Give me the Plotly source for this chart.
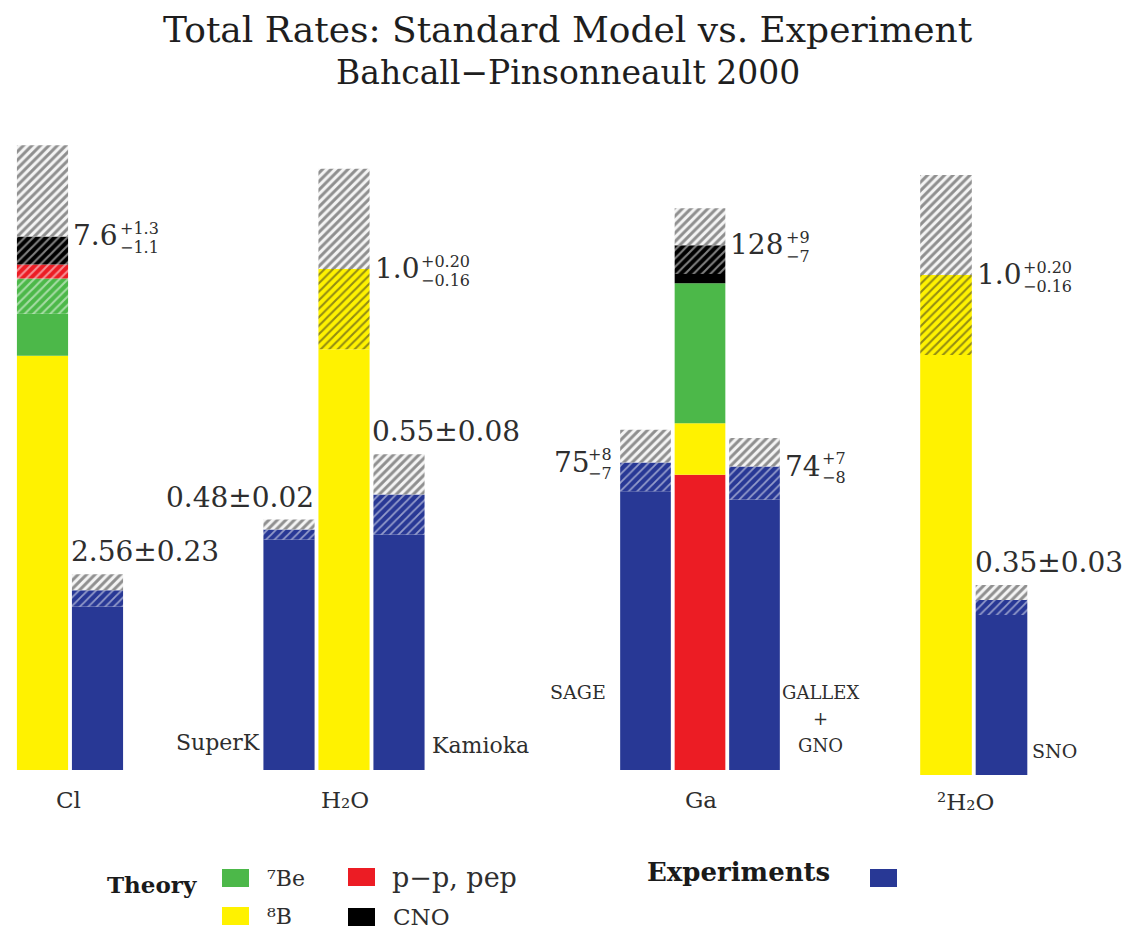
import plotly.graph_objects as go

W, H = 1122, 921          # figure size (page body adds an 8px margin)
OFF = 8

# ------------------------- data -------------------------
GROUP_LABELS = ["Cl", "H₂O", "Ga", "²H₂O"]

SOURCE_KEYS = ["7Be", "8B", "pp", "CNO"]
SOURCE_LABELS = ["⁷Be", "⁸B", "p−p, pep", "CNO"]

# theory predictions: components listed bottom -> top
CL_TH_SRC = ["8B", "7Be", "pp", "CNO"]
CL_TH_VAL = [5.9, 1.1, 0.2, 0.4]          # SNU, total 7.6
CL_TH_ERR = [1.3, 1.1]                    # +, -
H2O_TH_SRC = ["8B"]
H2O_TH_VAL = [1.0]
H2O_TH_ERR = [0.20, 0.16]
GA_TH_SRC = ["pp", "8B", "7Be", "CNO"]
GA_TH_VAL = [72.0, 12.6, 34.1, 9.3]       # SNU, total 128
GA_TH_ERR = [9, 7]
D2O_TH_SRC = ["8B"]
D2O_TH_VAL = [1.0]
D2O_TH_ERR = [0.20, 0.16]

TH_LABEL_MAIN = ["7.6", "1.0", "128", "1.0"]
TH_LABEL_SUP = ["+1.3", "+0.20", "+9", "+0.20"]
TH_LABEL_SUB = ["−1.1", "−0.16", "−7", "−0.16"]

# experiments
EXP_NAMES = ["Homestake", "SuperK", "Kamioka", "SAGE", "GALLEX|+|GNO", "SNO"]
EXP_VAL = [2.56, 0.48, 0.55, 75, 74, 0.35]
EXP_ERR_PLUS = [0.23, 0.02, 0.08, 8, 7, 0.03]
EXP_ERR_MINUS = [0.23, 0.02, 0.08, 7, 8, 0.03]
EXP_LABEL = ["2.56±0.23", "0.48±0.02", "0.55±0.08", "75", "74", "0.35±0.03"]
EXP_LABEL_SUP = ["", "", "", "+8", "+7", ""]
EXP_LABEL_SUB = ["", "", "", "−7", "−8", ""]

# ------------------------- styles -------------------------
COLORS = {"7Be": "#4cb849", "8B": "#fff200", "pp": "#ec1c24", "CNO": "#000000"}
HATCH_FG = {"7Be": "#ffffff", "8B": "#262626", "pp": "#ffffff", "CNO": "#ffffff"}
BLUE = "#283895"
GRAY_BG = "#f4f4f4"
GRAY_FG = "#2a2a2a"
BAR_W = 0.93
SERIF = "DejaVu Serif"
TXT = "#2e2e2e"


def px_x(p):
    return (p - OFF) / W


def px_y(p):
    return 1 - (p - OFF) / H


def text_w(s, size):
    # approximate DejaVu Serif advance widths
    wd = {".": 0.318, "+": 0.838, "−": 0.838}
    return sum(wd.get(c, 0.636) for c in s) * size


# axis layout (reference pixels): left/right of group, baseline, plot top, y-range top
AXES = [
    dict(l=15.0, r=125.0, base=770, top=120, ytop=650 / 70.2),
    dict(l=261.5, r=426.5, base=770, top=120, ytop=650 / 501.0),
    dict(l=618.25, r=781.75, base=770, top=120, ytop=650 / 4.10),
    dict(l=918.25, r=1029.25, base=775, top=125, ytop=650 / 500.0),
]
NSLOTS = [2, 3, 3, 2]

fig = go.Figure()


def add_seg(ax, x, lo, hi, color, hatch=False, fg=None, solidity=0.4):
    if hi <= lo:
        return
    marker = dict(color=color, line=dict(width=0))
    if hatch:
        marker["pattern"] = dict(shape="/", fillmode="overlay", fgcolor=fg,
                                 size=6, solidity=solidity)
    fig.add_trace(go.Bar(x=[x], y=[hi - lo], base=[lo], width=BAR_W,
                         marker=marker, xaxis=ax[0], yaxis=ax[1],
                         showlegend=False, hoverinfo="skip"))


def theory_bar(ax, x, src, vals, err):
    central = sum(vals)
    lo_err = central - err[1]
    cum = 0.0
    for s, v in zip(src, vals):
        a, b = cum, cum + v
        add_seg(ax, x, a, min(b, lo_err), COLORS[s])
        add_seg(ax, x, max(a, lo_err), b, COLORS[s], True, HATCH_FG[s], 0.35)
        cum = b
    add_seg(ax, x, central, central + err[0], GRAY_BG, True, GRAY_FG, 0.5)


def exp_bar(ax, x, v, ep, em):
    add_seg(ax, x, 0, v - em, BLUE)
    add_seg(ax, x, v - em, v, BLUE, True, "#ffffff", 0.3)
    add_seg(ax, x, v, v + ep, GRAY_BG, True, GRAY_FG, 0.5)


AX = [("x", "y"), ("x2", "y2"), ("x3", "y3"), ("x4", "y4")]

# group 1: chlorine
theory_bar(AX[0], 0, CL_TH_SRC, CL_TH_VAL, CL_TH_ERR)
exp_bar(AX[0], 1, EXP_VAL[0], EXP_ERR_PLUS[0], EXP_ERR_MINUS[0])
# group 2: water
exp_bar(AX[1], 0, EXP_VAL[1], EXP_ERR_PLUS[1], EXP_ERR_MINUS[1])
theory_bar(AX[1], 1, H2O_TH_SRC, H2O_TH_VAL, H2O_TH_ERR)
exp_bar(AX[1], 2, EXP_VAL[2], EXP_ERR_PLUS[2], EXP_ERR_MINUS[2])
# group 3: gallium
exp_bar(AX[2], 0, EXP_VAL[3], EXP_ERR_PLUS[3], EXP_ERR_MINUS[3])
theory_bar(AX[2], 1, GA_TH_SRC, GA_TH_VAL, GA_TH_ERR)
exp_bar(AX[2], 2, EXP_VAL[4], EXP_ERR_PLUS[4], EXP_ERR_MINUS[4])
# group 4: heavy water
theory_bar(AX[3], 0, D2O_TH_SRC, D2O_TH_VAL, D2O_TH_ERR)
exp_bar(AX[3], 1, EXP_VAL[5], EXP_ERR_PLUS[5], EXP_ERR_MINUS[5])

layout_axes = {}
for i, a in enumerate(AXES):
    sfx = "" if i == 0 else str(i + 1)
    layout_axes["xaxis" + sfx] = dict(
        domain=[px_x(a["l"]), px_x(a["r"])], range=[-0.5, NSLOTS[i] - 0.5],
        anchor="y" + sfx, visible=False, fixedrange=True)
    layout_axes["yaxis" + sfx] = dict(
        domain=[px_y(a["base"]), px_y(a["top"])], range=[0, a["ytop"]],
        anchor="x" + sfx, visible=False, fixedrange=True)

ann = []
VSIZE = 28
PMSIZE = 16
VFONT = dict(family=SERIF, size=VSIZE, color=TXT)
PMFONT = dict(family=SERIF, size=PMSIZE, color=TXT)


def a_(**kw):
    d = dict(showarrow=False)
    d.update(kw)
    ann.append(d)


def pm_pair(xr, yr, x, y, anchor, xshift, sup, sub):
    a_(x=x, y=y, xref=xr, yref=yr, xanchor=anchor, yanchor="middle",
       xshift=xshift, yshift=8, text=sup, font=PMFONT)
    a_(x=x, y=y, xref=xr, yref=yr, xanchor=anchor, yanchor="middle",
       xshift=xshift, yshift=-11, text=sub, font=PMFONT)


# theory value labels (right of theory bar, at central value)
th_slots = [(0, 0, CL_TH_VAL), (1, 1, H2O_TH_VAL), (2, 1, GA_TH_VAL), (3, 0, D2O_TH_VAL)]
for k, (gi, x, vals) in enumerate(th_slots):
    xr, yr = AX[gi]
    c = sum(vals)
    a_(x=x + BAR_W / 2, y=c, xref=xr, yref=yr, xanchor="left", yanchor="middle",
       xshift=3, yshift=1, text=TH_LABEL_MAIN[k], font=VFONT)
    pm_pair(xr, yr, x + BAR_W / 2, c, "left",
            3 + text_w(TH_LABEL_MAIN[k], VSIZE) + 2, TH_LABEL_SUP[k], TH_LABEL_SUB[k])

# experiment value labels
exp_pos = [(0, 1, "above-left"), (1, 0, "above-right"), (1, 2, "above-left"),
           (2, 0, "side-left"), (2, 2, "side-right"), (3, 1, "above-left")]
for k, (gi, x, mode) in enumerate(exp_pos):
    xr, yr = AX[gi]
    v, ep = EXP_VAL[k], EXP_ERR_PLUS[k]
    if mode == "above-left":
        a_(x=x - BAR_W / 2, y=v + ep, xref=xr, yref=yr, xanchor="left", yanchor="bottom",
           xshift=-3, yshift=4, text=EXP_LABEL[k], font=VFONT)
    elif mode == "above-right":
        a_(x=x + BAR_W / 2, y=v + ep, xref=xr, yref=yr, xanchor="right", yanchor="bottom",
           xshift=1, yshift=4, text=EXP_LABEL[k], font=VFONT)
    elif mode == "side-left":
        pm_pair(xr, yr, x - BAR_W / 2, v, "right", -6, EXP_LABEL_SUP[k], EXP_LABEL_SUB[k])
        a_(x=x - BAR_W / 2, y=v, xref=xr, yref=yr, xanchor="right", yanchor="middle",
           xshift=-6 - 22, yshift=0, text=EXP_LABEL[k], font=VFONT)
    else:
        a_(x=x + BAR_W / 2, y=v, xref=xr, yref=yr, xanchor="left", yanchor="middle",
           xshift=3, yshift=0, text=EXP_LABEL[k], font=VFONT)
        pm_pair(xr, yr, x + BAR_W / 2, v, "left",
                3 + text_w(EXP_LABEL[k], VSIZE) + 2, EXP_LABEL_SUP[k], EXP_LABEL_SUB[k])

# experiment names
name_pos = [None, [(262, 742, "right", 22)], [(430, 745, "left", 22)], [(608, 692, "right", 19)],
            [(820, 692, "center", 18), (820, 718, "center", 18), (820, 745, "center", 18)],
            [(1030, 751, "left", 19)]]
for k, plist in enumerate(name_pos):
    if plist is None:
        continue
    for line, (px, py, anc, sz) in zip(EXP_NAMES[k].split("|"), plist):
        a_(x=px_x(px), y=px_y(py), xref="paper", yref="paper", xanchor=anc,
           yanchor="middle", text=line, font=dict(family=SERIF, size=sz, color=TXT))

# group labels
GFONT = dict(family=SERIF, size=23, color=TXT)
for lab, (gx, gy) in zip(GROUP_LABELS, [(68, 800), (345, 800), (701, 800), (965, 802)]):
    a_(x=px_x(gx), y=px_y(gy), xref="paper", yref="paper", xanchor="center",
       yanchor="middle", text=lab, font=GFONT)

# titles
a_(x=px_x(568), y=1.0, xref="paper", yref="paper", xanchor="center", yanchor="top",
   borderpad=0, text="Total Rates: Standard Model vs. Experiment",
   font=dict(family=SERIF, size=36, color="#1e1e1e"))
a_(x=px_x(568), y=px_y(72), xref="paper", yref="paper", xanchor="center", yanchor="middle",
   text="Bahcall−Pinsonneault 2000", font=dict(family=SERIF, size=33, color="#1e1e1e"))

# legend
shapes = []
a_(x=px_x(199), y=px_y(884), xref="paper", yref="paper", xanchor="right", yanchor="middle",
   text="<b>Theory</b>", font=dict(family=SERIF, size=23, color="#1a1a1a"))
leg = [("7Be", 222, 878, 265, 22), ("pp", 348, 877, 390, 27),
       ("8B", 222, 916, 265, 22), ("CNO", 348, 917, 391, 23)]
for key, sx, sy, tx, fs in leg:
    shapes.append(dict(type="rect", xref="paper", yref="paper",
                       x0=px_x(sx), x1=px_x(sx + 27), y0=px_y(sy + 9), y1=px_y(sy - 9),
                       fillcolor=COLORS[key], line=dict(width=0)))
    lab = SOURCE_LABELS[SOURCE_KEYS.index(key)]
    a_(x=px_x(tx), y=px_y(sy), xref="paper", yref="paper", xanchor="left", yanchor="middle",
       text=lab, font=dict(family=SERIF, size=fs, color=TXT))
a_(x=px_x(645), y=px_y(872), xref="paper", yref="paper", xanchor="left", yanchor="middle",
   text="<b>Experiments</b>", font=dict(family=SERIF, size=26, color="#1a1a1a"))
shapes.append(dict(type="rect", xref="paper", yref="paper",
                   x0=px_x(870), x1=px_x(897), y0=px_y(887), y1=px_y(869),
                   fillcolor=BLUE, line=dict(width=0)))

fig.update_layout(
    width=W, height=H, margin=dict(l=0, r=0, t=0, b=0),
    paper_bgcolor="white", plot_bgcolor="white",
    barmode="overlay", showlegend=False,
    annotations=ann, shapes=shapes, **layout_axes)

fig.write_html("out.html")
